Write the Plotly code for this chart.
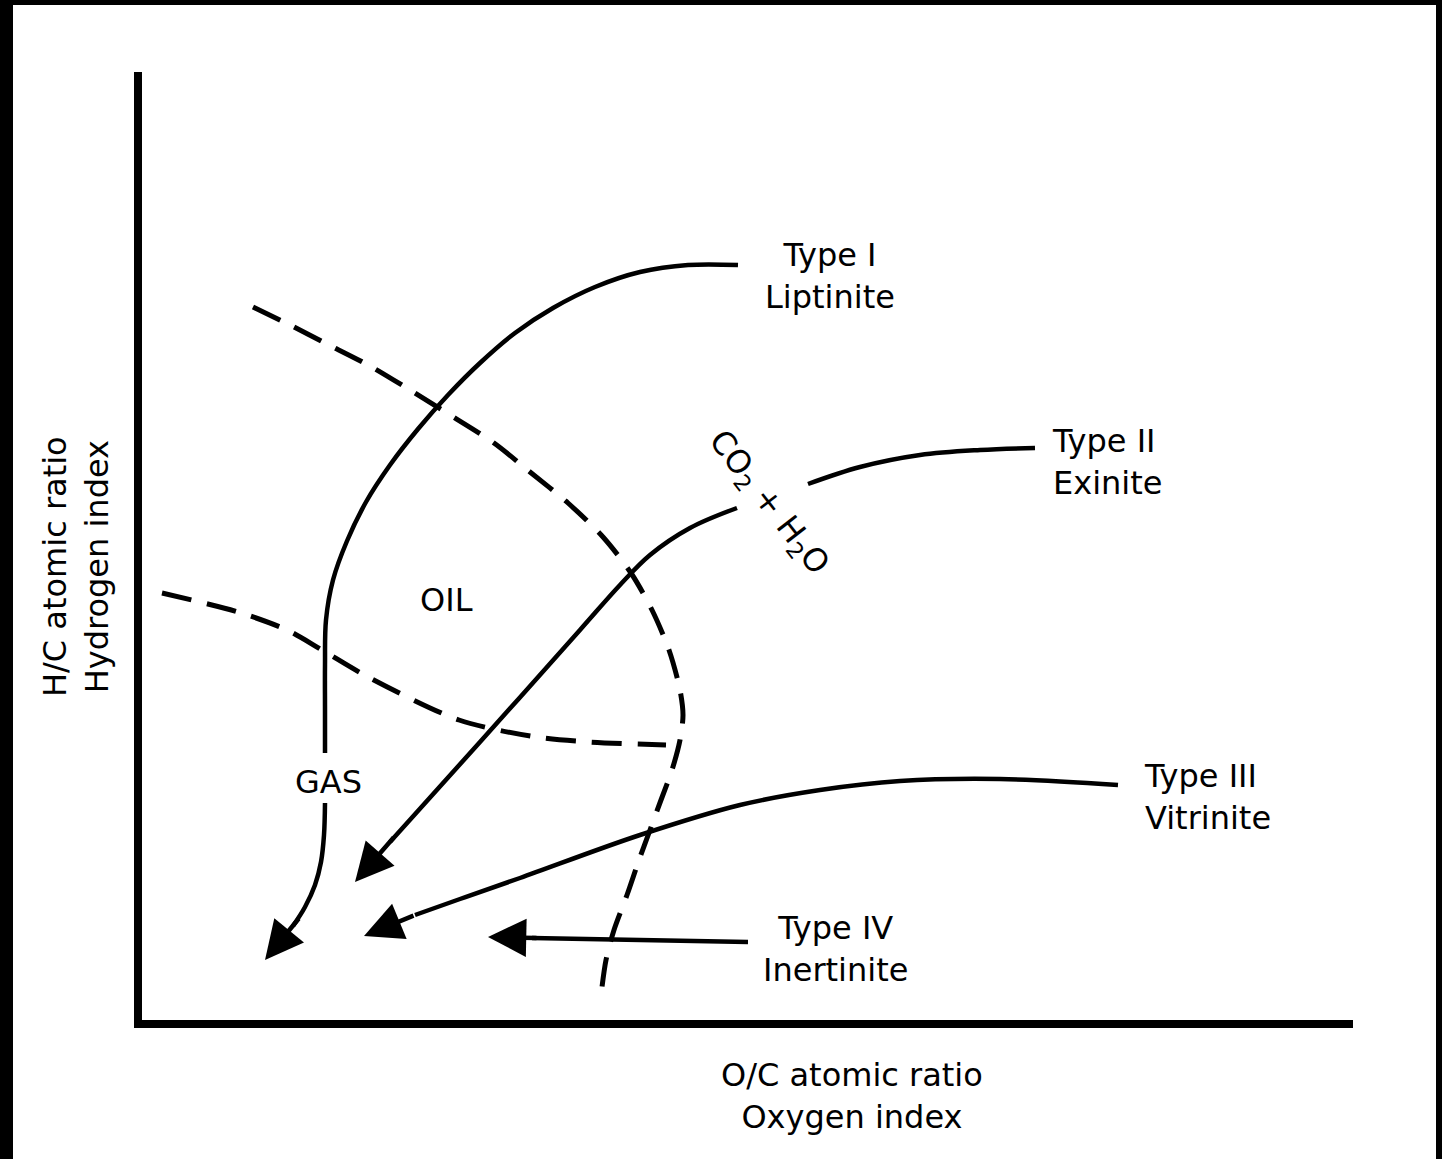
import plotly.graph_objects as go

# Schematic units: x = distance to the right of the H/C axis, y = height above the O/C axis
type1_x = [596, 546, 498, 453, 411, 373, 338, 306, 276, 248, 224, 205, 191, 184, 183, 183, 183, None, 183, 182, 179, 173, 163, 151]
type1_y = [755, 755, 748, 733, 712, 687, 657, 625, 591, 555, 518, 479, 440, 400, 355, 310, 267, None, 217, 185, 158, 135, 113, 94]

type2_x = [893, 838, 778, 718, 666, None, 595, 548, 508, 478, 438, 338, 248]
type2_y = [572, 570, 565, 553, 536, None, 512, 492, 465, 435, 390, 278, 178]

type3_x = [976, 858, 758, 678, 598, 498, 378, 318, 273]
type3_y = [235, 241, 239, 230, 215, 185, 142, 121, 105]

type4_x = [606, 390]
type4_y = [78, 82]

# arrow heads: tip and a point just behind it on each path (Type I, II, III, IV)
arrow_tip_x = [123, 213, 222, 346]
arrow_tip_y = [60, 138, 84, 83]
arrow_tail_x = [158, 253, 273, 396]
arrow_tail_y = [103, 184, 105, 82]

# dashed zone boundaries
oil_window_x = [111, 148, 183, 228, 268, 308, 352, 388, 426, 461, 489, 510, 527, 538, 541, 538, 530, 519, 508, 497, 485, 472, 464, 459]
oil_window_y = [713, 695, 677, 654, 630, 605, 577, 548, 517, 483, 447, 410, 370, 330, 305, 280, 250, 220, 190, 160, 125, 90, 60, 25]

gas_window_x = [20, 96, 145, 180, 226, 317, 394, 447, 524]
gas_window_y = [427, 408, 390, 370, 343, 300, 283, 278, 275]

# labels
kerogen_labels = ["Type I<br>Liptinite", "Type II<br>Exinite", "Type III<br>Vitrinite", "Type IV<br>Inertinite"]
kerogen_label_x = [688, 908, 1000, 693]
kerogen_label_y = [744, 558, 223, 71]
kerogen_label_anchor = ["center", "left", "left", "center"]
kerogen_label_align = ["center", "left", "left", "center"]

zone_labels = ["OIL", "GAS"]
zone_label_x = [304, 186]
zone_label_y = [420, 238]

co2_label = "CO<sub>2</sub> + H<sub>2</sub>O"
co2_x, co2_y, co2_angle = 626, 517, 52

x_title = "O/C atomic ratio<br>Oxygen index"
y_title = "H/C atomic ratio<br>Hydrogen index"

FONT = "DejaVu Sans"
FS = 32
W, H = 1442, 1159
L, R, T, B = 142, 89, 72, 139
PW, PH = W - L - R, H - T - B

fig = go.Figure()
solid = dict(color="black", width=4.5)
for xs, ys in [(type1_x, type1_y), (type2_x, type2_y), (type3_x, type3_y), (type4_x, type4_y)]:
    fig.add_trace(go.Scatter(x=xs, y=ys, mode="lines", line=dict(shape="spline", smoothing=1.0, **solid),
                             connectgaps=False, hoverinfo="skip", showlegend=False))
dashed = dict(color="black", width=5, dash="30px,16px")
for xs, ys in [(oil_window_x, oil_window_y), (gas_window_x, gas_window_y)]:
    fig.add_trace(go.Scatter(x=xs, y=ys, mode="lines", line=dict(shape="spline", smoothing=0.8, **dashed),
                             hoverinfo="skip", showlegend=False))

for tx, ty, ax, ay in zip(arrow_tip_x, arrow_tip_y, arrow_tail_x, arrow_tail_y):
    fig.add_annotation(x=tx, y=ty, ax=ax, ay=ay, xref="x", yref="y", axref="x", ayref="y",
                       text="", showarrow=True, arrowhead=2, arrowsize=1.7, arrowwidth=4.5,
                       arrowcolor="black", standoff=0)

for txt, x, y, anc, al in zip(kerogen_labels, kerogen_label_x, kerogen_label_y, kerogen_label_anchor, kerogen_label_align):
    fig.add_annotation(x=x, y=y, xref="x", yref="y", text=txt, showarrow=False, xanchor=anc, yanchor="middle",
                       align=al, font=dict(family=FONT, size=FS, color="black"))
for txt, x, y in zip(zone_labels, zone_label_x, zone_label_y):
    fig.add_annotation(x=x, y=y, xref="x", yref="y", text=txt, showarrow=False, xanchor="center", yanchor="middle",
                       font=dict(family=FONT, size=FS, color="black"))
fig.add_annotation(x=co2_x, y=co2_y, xref="x", yref="y", text=co2_label, showarrow=False, textangle=co2_angle,
                   xanchor="center", yanchor="middle", font=dict(family=FONT, size=FS, color="black"))

fig.add_annotation(x=(852 - L) / PW, y=(H - B - 1096) / PH, xref="paper", yref="paper", text=x_title,
                   showarrow=False, xanchor="center", yanchor="middle",
                   font=dict(family=FONT, size=FS, color="black"))
fig.add_annotation(x=(76 - L) / PW, y=(H - B - 567) / PH, xref="paper", yref="paper", text=y_title,
                   showarrow=False, textangle=-90, xanchor="center", yanchor="middle",
                   font=dict(family=FONT, size=FS, color="black"))

# white sheet inside a black frame
fig.add_shape(type="rect", xref="paper", yref="paper", x0=(13 - L) / PW, x1=(1436 - L) / PW,
              y0=-0.3, y1=(H - B - 5) / PH, fillcolor="white", line=dict(width=0), layer="below")

axis_common = dict(showgrid=False, zeroline=False, showticklabels=False, ticks="",
                   showline=True, linewidth=8, linecolor="black", mirror=False, fixedrange=True)
fig.update_layout(
    width=W, height=H, margin=dict(l=L, r=R, t=T, b=B, pad=0),
    paper_bgcolor="black", plot_bgcolor="white",
    xaxis=dict(range=[0, PW], **axis_common),
    yaxis=dict(range=[0, PH], **axis_common),
    showlegend=False,
)
fig.write_html("out.html", config={"displayModeBar": False},
               post_script="document.body.style.margin='0';document.body.style.background='black';")
